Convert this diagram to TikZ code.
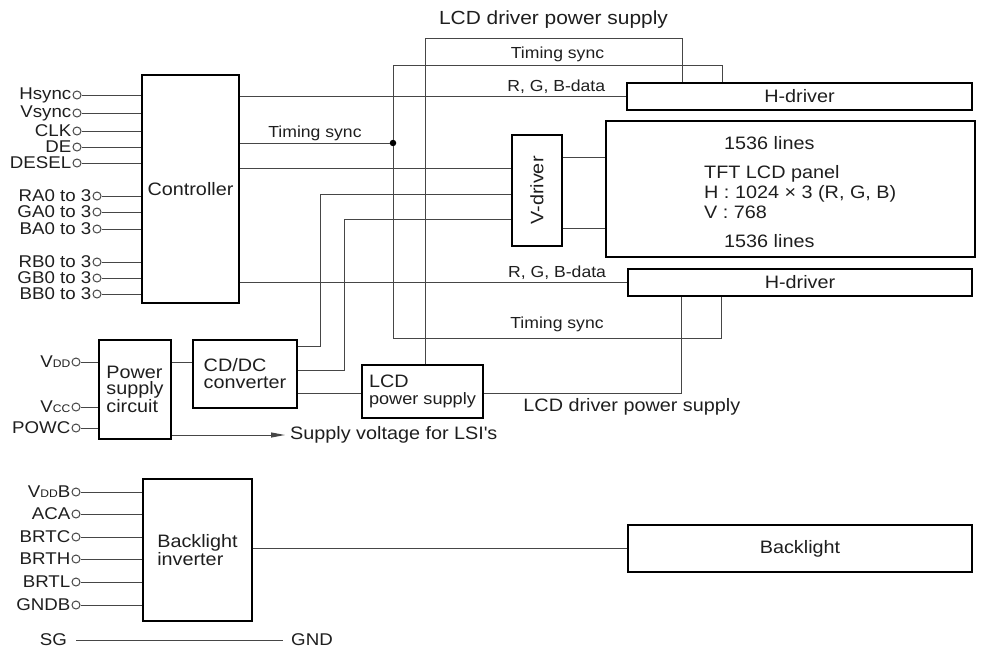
\documentclass[tikz,border=0pt]{standalone}
\usepackage{fontspec}
\setmainfont{Liberation Sans}[FakeStretch=1.1]
\usetikzlibrary{arrows.meta,positioning,calc}
\definecolor{Tinta}{RGB}{30,30,30}
\definecolor{Hilo}{RGB}{70,70,70}
\newcommand{\boxfont}{\fontsize{18}{16.5}\selectfont}
\newcommand{\wirefont}{\fontsize{16}{16}\selectfont}
\newcommand{\pinfont}{\fontsize{17}{17}\selectfont}
\newcommand{\smallsub}[1]{{\fontsize{11}{11}\selectfont #1}}
\tikzset{
  blockbox/.style={draw=black, line width=2.8pt, align=left, inner sep=0pt,
    font=\boxfont, text=Tinta},
  wire/.style={draw=Hilo, line width=1pt},
  wirelbl/.style={font=\wirefont, text=Tinta, inner sep=1pt},
  pinring/.style={circle, draw=Hilo, line width=1pt, minimum size=8pt, inner sep=0pt},
  pinlbl/.style={font=\pinfont, text=Tinta, inner sep=0pt},
  junction/.style={circle, fill=black, minimum size=6.5pt, inner sep=0pt},
  lsiarr/.style={-{Triangle[length=14pt, width=5pt]}, line width=1pt, Hilo},
}

\begin{document}
\begin{tikzpicture}[x=1pt, y=-1pt]
    \useasboundingbox (0,0) rectangle (984,653);

    % bloques
    \node[blockbox, minimum width=97pt, minimum height=228pt, align=center] (ctrl) at (190.5,189) {Controller};
    \node[blockbox, minimum width=345pt, minimum height=27pt] (hdrvA) at (799.5,96.5) {H-driver};
    \node[blockbox, minimum width=369pt, minimum height=136pt] (panel) at (790.5,189) {};
    \node[blockbox, minimum width=50pt, minimum height=111pt] (vdrv) at (537,190.5) {\rotatebox{90}{V-driver}};
    \node[blockbox, minimum width=344pt, minimum height=27pt] (hdrvB) at (800,282.5) {H-driver};
    \node[blockbox, minimum width=72pt, minimum height=99pt] (psc) at (135,389.5) {Power\\supply\\circuit};
    \node[blockbox, minimum width=104pt, minimum height=68pt, font=\fontsize{18}{17}\selectfont] (cddc) at (245,374) {CD/DC\\converter};
    \node[blockbox, minimum width=121pt, minimum height=53pt] (lcdps) at (422.5,391.5) {LCD\\{\fontsize{16.5}{16}\selectfont power supply}};
    \node[blockbox, minimum width=109pt, minimum height=142pt] (bli) at (197.5,550) {Backlight\\inverter};
    \node[blockbox, minimum width=344pt, minimum height=47pt] (bl) at (800,548.5) {Backlight};

    % texto del panel
    \node[wirelbl, font=\boxfont, anchor=west] (linesA) at (723,143) {1536 lines};
    \node[wirelbl, font=\fontsize{18}{20}\selectfont, anchor=west, align=left] (tft) at (703,192) {TFT LCD panel\\H : 1024 × 3 (R, G, B)\\V : 768};
    \node[wirelbl, font=\boxfont, anchor=west] (linesB) at (723,241) {1536 lines};

    % entradas del controlador
    \node[pinring] (hs) at (77,95) {};    \node[pinlbl, left=1pt of hs] (hsl) {Hsync};
    \node[pinring] (vs) at (77,113) {};   \node[pinlbl, left=1pt of vs] (vsl) {Vsync};
    \node[pinring] (clk) at (77,131) {};  \node[pinlbl, left=1pt of clk] (clkl) {CLK};
    \node[pinring] (de) at (77,147) {};   \node[pinlbl, left=1pt of de] (del) {DE};
    \node[pinring] (dsl) at (77,163) {};  \node[pinlbl, left=1pt of dsl] (dsll) {DESEL};
    \node[pinring] (ra) at (97,196) {};   \node[pinlbl, left=1pt of ra] (ral) {RA0 to 3};
    \node[pinring] (ga) at (97,212) {};   \node[pinlbl, left=1pt of ga] (gal) {GA0 to 3};
    \node[pinring] (ba) at (97,229) {};   \node[pinlbl, left=1pt of ba] (bal) {BA0 to 3};
    \node[pinring] (rb) at (97,262) {};   \node[pinlbl, left=1pt of rb] (rbl) {RB0 to 3};
    \node[pinring] (gb) at (97,278) {};   \node[pinlbl, left=1pt of gb] (gbl) {GB0 to 3};
    \node[pinring] (bb) at (97,294) {};   \node[pinlbl, left=1pt of bb] (bbl) {BB0 to 3};
    \draw[wire] (hs) -- (hs -| ctrl.west);
    \draw[wire] (vs) -- (vs -| ctrl.west);
    \draw[wire] (clk) -- (clk -| ctrl.west);
    \draw[wire] (de) -- (de -| ctrl.west);
    \draw[wire] (dsl) -- (dsl -| ctrl.west);
    \draw[wire] (ra) -- (ra -| ctrl.west);
    \draw[wire] (ga) -- (ga -| ctrl.west);
    \draw[wire] (ba) -- (ba -| ctrl.west);
    \draw[wire] (rb) -- (rb -| ctrl.west);
    \draw[wire] (gb) -- (gb -| ctrl.west);
    \draw[wire] (bb) -- (bb -| ctrl.west);

    % entradas de alimentacion
    \node[pinring] (vdd) at (76,362) {};  \node[pinlbl, left=1pt of vdd] (vddl) {V\smallsub{DD}};
    \node[pinring] (vcc) at (76,407) {};  \node[pinlbl, left=1pt of vcc] (vccl) {V\smallsub{CC}};
    \node[pinring] (powc) at (76,428) {}; \node[pinlbl, left=1pt of powc] (powcl) {POWC};
    \draw[wire] (vdd) -- (vdd -| psc.west);
    \draw[wire] (vcc) -- (vcc -| psc.west);
    \draw[wire] (powc) -- (powc -| psc.west);

    % entradas del inversor
    \node[pinring] (vddb) at (76,492) {}; \node[pinlbl, left=1pt of vddb] (vddbl) {V\smallsub{DD}B};
    \node[pinring] (aca) at (76,514) {};  \node[pinlbl, left=1pt of aca] (acal) {ACA};
    \node[pinring] (brtc) at (76,537) {}; \node[pinlbl, left=1pt of brtc] (brtcl) {BRTC};
    \node[pinring] (brth) at (76,559) {}; \node[pinlbl, left=1pt of brth] (brthl) {BRTH};
    \node[pinring] (brtl) at (76,582) {}; \node[pinlbl, left=1pt of brtl] (brtll) {BRTL};
    \node[pinring] (gndb) at (76,605) {}; \node[pinlbl, left=1pt of gndb] (gndbl) {GNDB};
    \draw[wire] (vddb) -- (vddb -| bli.west);
    \draw[wire] (aca) -- (aca -| bli.west);
    \draw[wire] (brtc) -- (brtc -| bli.west);
    \draw[wire] (brth) -- (brth -| bli.west);
    \draw[wire] (brtl) -- (brtl -| bli.west);
    \draw[wire] (gndb) -- (gndb -| bli.west);

    % puntos de paso
    \node[junction] (tdot) at (393,143) {};
    \coordinate (tsA) at (722,65);
    \coordinate (tsB) at (721,338);
    \coordinate (pwA) at (682,38);
    \coordinate (pwB) at (681,393);
    \coordinate (vC) at (512,168);
    \coordinate (vA) at (320,194);
    \coordinate (vB) at (344,219);
    \coordinate (pA) at (562,157);
    \coordinate (pB) at (562,228);
    \coordinate (pc) at (171,362);

    % senales
    \draw[wire] (ctrl.east |- hdrvA.west) -- node[wirelbl, above=1pt, pos=0.82] (rgbA) {R, G, B-data} (hdrvA.west);
    \draw[wire] (ctrl.east |- hdrvB.west) -- node[wirelbl, above=1pt, pos=0.82] (rgbB) {R, G, B-data} (hdrvB.west);
    \draw[wire] (ctrl.east |- tdot) -- node[wirelbl, above=1pt] (tsC) {Timing sync} (tdot);
    \draw[wire] (tdot) |- node[wirelbl, above=2pt, pos=0.75] (tsAl) {Timing sync} (tsA) -- (tsA |- hdrvA.north);
    \draw[wire] (tdot) |- node[wirelbl, above=5pt, pos=0.75] (tsBl) {Timing sync} (tsB) -- (tsB |- hdrvB.south);
    \draw[wire] (ctrl.east |- vC) -- (vC -| vdrv.west);
    \draw[wire] (pA -| vdrv.east) -- (pA -| panel.west);
    \draw[wire] (pB -| vdrv.east) -- (pB -| panel.west);

    % alimentacion
    \draw[wire] (pc -| psc.east) -- (pc -| cddc.west);
    \draw[wire] ([yshift=-8pt]cddc.north east) -| (vA) -- (vA -| vdrv.west);
    \draw[wire] ([yshift=-32pt]cddc.north east) -| (vB) -- (vB -| vdrv.west);
    \draw[wire] (cddc.east |- pwB) -- (lcdps.west |- pwB);
    \draw[wire] ([xshift=2.5pt]lcdps.north) |- node[wirelbl, font=\fontsize{19}{19}\selectfont, above=8pt, pos=0.75] (pwAl) {LCD driver power supply} (pwA) -- (pwA |- hdrvA.north);
    \draw[wire] (lcdps.east |- pwB) -- node[wirelbl, font=\boxfont, below=4pt, pos=0.75] (pwBl) {LCD driver power supply} (pwB) -- (pwB |- hdrvB.south);
    \node[wirelbl, font=\boxfont, anchor=west, inner sep=2pt] (lsi) at (288,435) {Supply voltage for LSI\textquotesingle s};
    \draw[lsiarr] (lsi.west -| psc.east) -- ([xshift=-3pt]lsi.west);

    % luz de fondo
    \draw[wire] (bli.east |- bl.west) -- (bl.west);
    \node[pinlbl, anchor=east] (sg) at (67,640) {SG};
    \node[pinlbl, anchor=west] (gnd) at (291,640) {GND};
    \draw[wire] ([xshift=9pt]sg.east) -- ([xshift=-8pt]gnd.west);
  \end{tikzpicture}
\end{document}
